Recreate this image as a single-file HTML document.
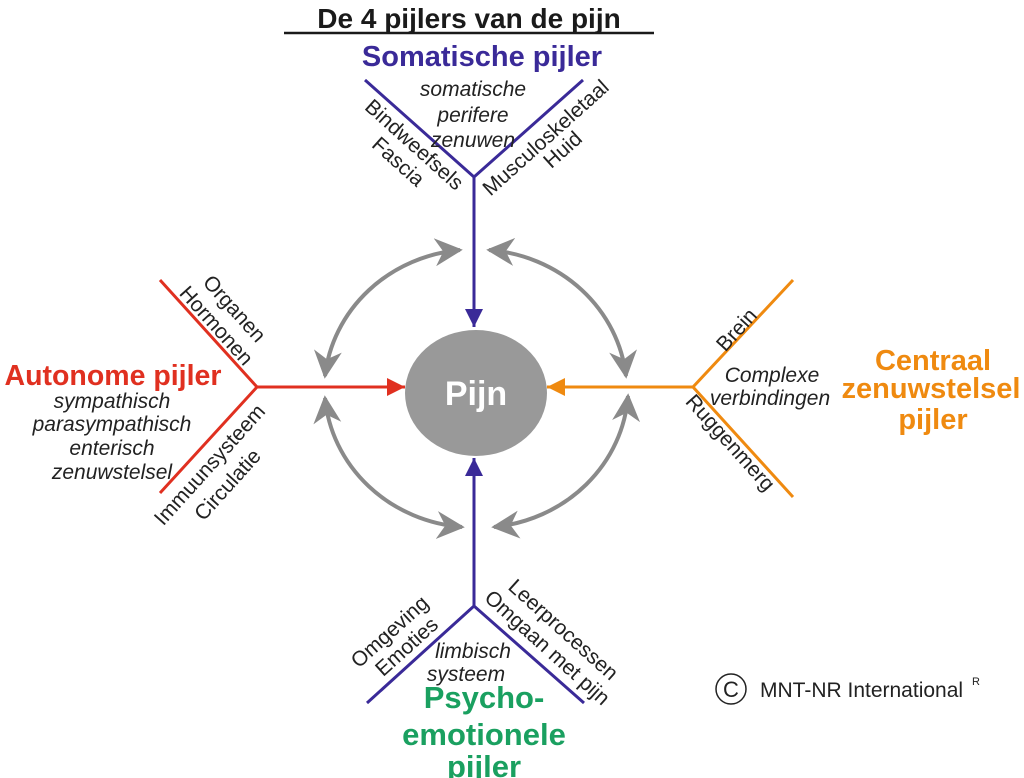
<!DOCTYPE html>
<html><head><meta charset="utf-8"><style>
html,body{margin:0;padding:0;background:#fff;}
svg{display:block;font-family:"Liberation Sans",Arial,sans-serif;}
.t{font-size:21px;fill:#222;}
.i{font-size:21px;fill:#222;font-style:italic;}
.c{dominant-baseline:central;}
</style></head><body>
<svg width="1024" height="778" viewBox="0 0 1024 778" xmlns="http://www.w3.org/2000/svg">
<defs>
<marker id="g" viewBox="0 0 10 10" refX="9" refY="5" markerWidth="7" markerHeight="7" markerUnits="strokeWidth" orient="auto-start-reverse"><path d="M0,0 L10,5 L0,10 L3,5 z" fill="#8a8a8a"/></marker>
<marker id="b" viewBox="0 0 10 10" refX="10" refY="5" markerWidth="6" markerHeight="7" markerUnits="strokeWidth" orient="auto"><path d="M0,0 L10,5 L0,10 z" fill="#3a2a98"/></marker>
<marker id="r" viewBox="0 0 10 10" refX="10" refY="5" markerWidth="6" markerHeight="7" markerUnits="strokeWidth" orient="auto"><path d="M0,0 L10,5 L0,10 z" fill="#e03020"/></marker>
<marker id="o" viewBox="0 0 10 10" refX="10" refY="5" markerWidth="6" markerHeight="7" markerUnits="strokeWidth" orient="auto"><path d="M0,0 L10,5 L0,10 z" fill="#ef8a10"/></marker>
</defs>

<text x="469" y="28" text-anchor="middle" font-size="28" font-weight="bold" fill="#1a1a1a">De 4 pijlers van de pijn</text>
<line x1="284" y1="33" x2="654" y2="33" stroke="#1a1a1a" stroke-width="2.5"/>

<!-- Somatic -->
<text x="482" y="66" text-anchor="middle" font-size="29" font-weight="bold" fill="#3a2a98">Somatische pijler</text>
<polyline points="365,80 474,177 583,80" fill="none" stroke="#3a2a98" stroke-width="3"/>
<line x1="474" y1="177" x2="474" y2="327" stroke="#3a2a98" stroke-width="3" marker-end="url(#b)"/>
<text class="i" x="473" y="96" text-anchor="middle">somatische</text>
<text class="i" x="473" y="122" text-anchor="middle">perifere</text>
<text class="i" x="473" y="147" text-anchor="middle">zenuwen</text>
<text class="t c" transform="translate(414,145) rotate(42)" text-anchor="middle">Bindweefsels</text>
<text class="t c" transform="translate(398,162) rotate(42)" text-anchor="middle">Fascia</text>
<text class="t c" transform="translate(546,138) rotate(-42)" text-anchor="middle">Musculoskeletaal</text>
<text class="t c" transform="translate(563,150) rotate(-42)" text-anchor="middle">Huid</text>

<!-- Autonome -->
<polyline points="160,280 257,387 160,493" fill="none" stroke="#e03020" stroke-width="3"/>
<line x1="257" y1="387" x2="405" y2="387" stroke="#e03020" stroke-width="3" marker-end="url(#r)"/>
<text x="113" y="385" text-anchor="middle" font-size="28.5" font-weight="bold" fill="#e03020">Autonome pijler</text>
<text class="i" x="112" y="408" text-anchor="middle">sympathisch</text>
<text class="i" x="112" y="431" text-anchor="middle">parasympathisch</text>
<text class="i" x="112" y="455" text-anchor="middle">enterisch</text>
<text class="i" x="112" y="479" text-anchor="middle">zenuwstelsel</text>
<text class="t c" transform="translate(234,309) rotate(48)" text-anchor="middle">Organen</text>
<text class="t c" transform="translate(216,326) rotate(48)" text-anchor="middle">Hormonen</text>
<text class="t c" transform="translate(210,465) rotate(-48)" text-anchor="middle">Immuunsysteem</text>
<text class="t c" transform="translate(228,485) rotate(-48)" text-anchor="middle">Circulatie</text>

<!-- Central -->
<polyline points="793,280 693,387 793,497" fill="none" stroke="#ef8a10" stroke-width="3"/>
<line x1="693" y1="387" x2="547" y2="387" stroke="#ef8a10" stroke-width="3" marker-end="url(#o)"/>
<text class="t c" transform="translate(737,330) rotate(-48)" text-anchor="middle">Brein</text>
<text class="i" x="772" y="382" text-anchor="middle">Complexe</text>
<text class="i" x="770" y="405" text-anchor="middle">verbindingen</text>
<text class="t c" transform="translate(730,443) rotate(48)" text-anchor="middle">Ruggenmerg</text>
<text x="933" y="370" text-anchor="middle" font-size="29" font-weight="bold" fill="#ef8a10">Centraal</text>
<text x="931" y="398" text-anchor="middle" font-size="29" font-weight="bold" fill="#ef8a10">zenuwstelsel</text>
<text x="933" y="429" text-anchor="middle" font-size="29" font-weight="bold" fill="#ef8a10">pijler</text>

<!-- Psycho -->
<polyline points="367,703 474,606 584,703" fill="none" stroke="#3a2a98" stroke-width="3"/>
<line x1="474" y1="606" x2="474" y2="458" stroke="#3a2a98" stroke-width="3" marker-end="url(#b)"/>
<text class="t c" transform="translate(390,632) rotate(-42)" text-anchor="middle">Omgeving</text>
<text class="t c" transform="translate(407,647) rotate(-42)" text-anchor="middle">Emoties</text>
<text class="t c" transform="translate(563,630) rotate(42)" text-anchor="middle">Leerprocessen</text>
<text class="t c" transform="translate(547,648) rotate(42)" text-anchor="middle">Omgaan met pijn</text>
<text class="i" x="473" y="658" text-anchor="middle">limbisch</text>
<text class="i" x="466" y="681" text-anchor="middle">systeem</text>
<text x="484" y="708" text-anchor="middle" font-size="31" font-weight="bold" fill="#1aa060">Psycho-</text>
<text x="484" y="745" text-anchor="middle" font-size="31" font-weight="bold" fill="#1aa060">emotionele</text>
<text x="484" y="777" text-anchor="middle" font-size="31" font-weight="bold" fill="#1aa060">pijler</text>

<!-- center -->
<ellipse cx="476" cy="393" rx="71" ry="63" fill="#999"/>
<text x="476" y="405" text-anchor="middle" font-size="34" font-weight="bold" fill="#fff">Pijn</text>

<!-- gray arcs -->
<g fill="none" stroke="#8a8a8a" stroke-width="4">
<path d="M325,376 A150,142 0 0 1 460,250" marker-start="url(#g)" marker-end="url(#g)"/>
<path d="M489,250 A150,142 0 0 1 626,376" marker-start="url(#g)" marker-end="url(#g)"/>
<path d="M325,398 A150,142 0 0 0 462,527" marker-start="url(#g)" marker-end="url(#g)"/>
<path d="M494,527 A150,142 0 0 0 628,396" marker-start="url(#g)" marker-end="url(#g)"/>
</g>

<!-- copyright -->
<circle cx="731" cy="689" r="15" fill="none" stroke="#222" stroke-width="1.5"/>
<text x="731" y="697" text-anchor="middle" font-size="22" fill="#222">C</text>
<text x="760" y="697" font-size="21" fill="#222">MNT-NR International</text>
<text x="972" y="685" font-size="11" fill="#222">R</text>
</svg>
</body></html>
